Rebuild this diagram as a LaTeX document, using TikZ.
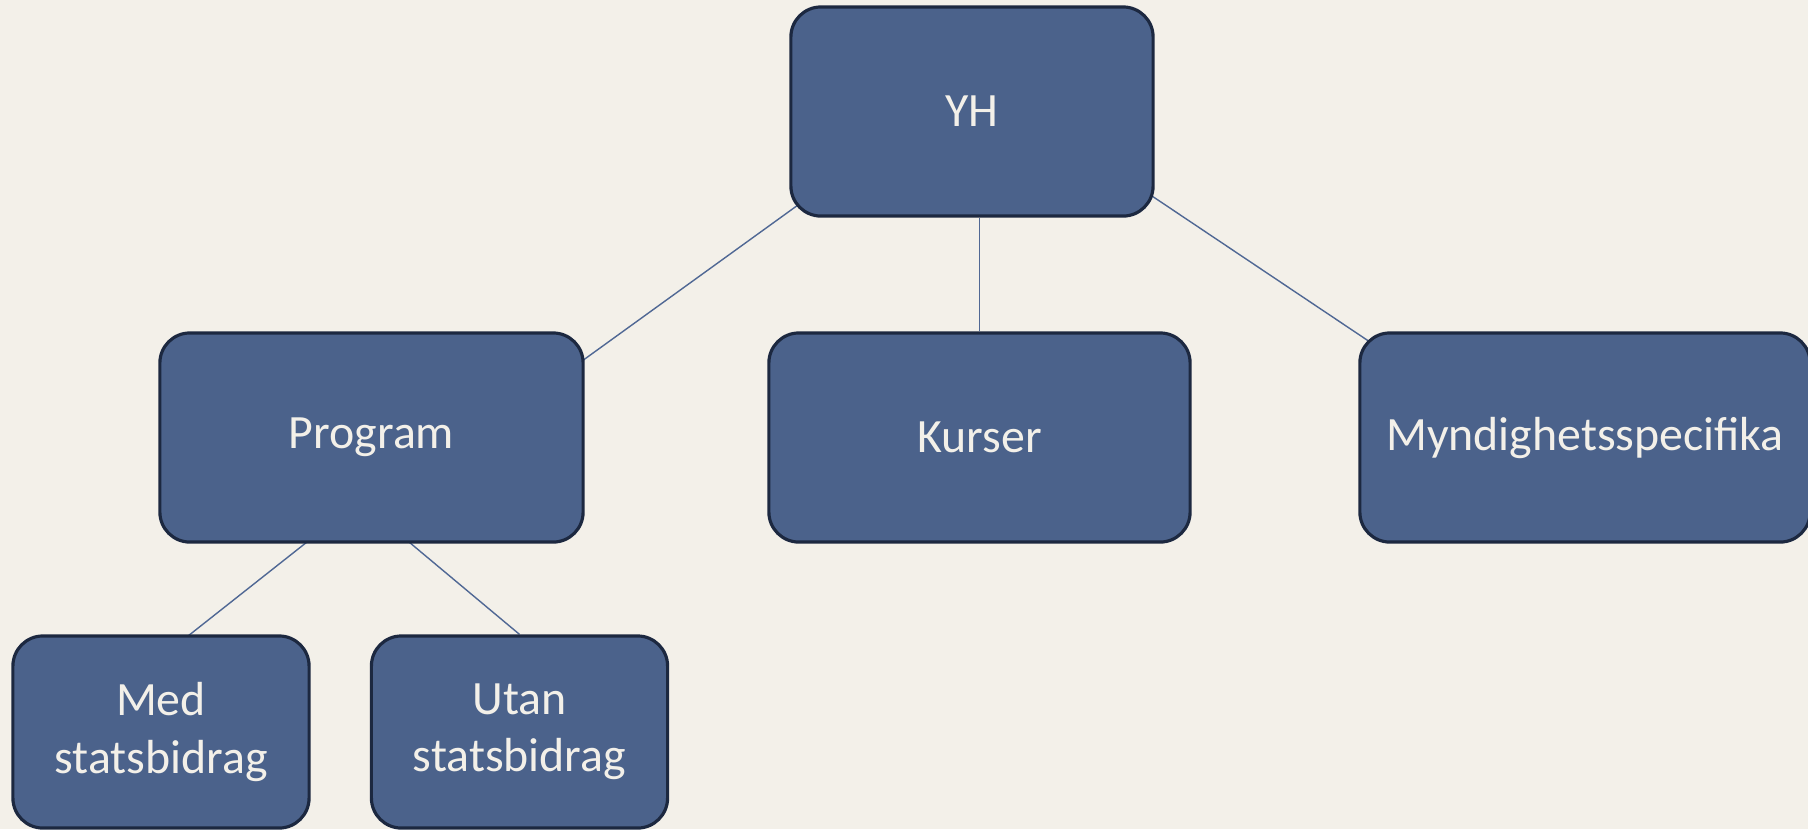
\documentclass[tikz,border=0pt]{standalone}
\usepackage{fontspec}
\setmainfont{Carlito}
\usepackage{tikz}
\usetikzlibrary{positioning,calc,backgrounds}
\definecolor{paper}{RGB}{243,240,233}
\definecolor{boxfill}{RGB}{75,98,139}
\definecolor{boxline}{RGB}{28,40,64}
\definecolor{linkcol}{RGB}{80,104,148}
\tikzstyle{box} = [rectangle, rounded corners=0.3cm, draw=boxline, line width=0.9pt, fill=boxfill, text=paper, text centered, align=center, font=\fontsize{13.6}{16.3}\selectfont]
\tikzstyle{wide} = [box, minimum width=4.23cm, minimum height=2.09cm]
\tikzstyle{small} = [box, minimum width=2.96cm, minimum height=1.92cm]
\tikzstyle{link} = [draw=linkcol, line width=0.4pt]

\begin{document}
\begin{tikzpicture}[x=0.01cm, y=-0.01cm]
    \useasboundingbox (0,0) rectangle (1808,829);

    \node (yh) [box, minimum width=3.62cm, minimum height=2.09cm] at (972,111.5) {YH};
    \node (program) [wide] at (371.5,437.5) {Program};
    \node (kurser) [wide, minimum width=4.21cm] at (979.5,437.5) {Kurser};
    \node (myndighet) [wide, minimum width=4.5cm] at (1585,437.5) {Myndighetsspecifika};
    \node (med) [small] at (161,732) {Med\\statsbidrag};
    \node (utan) [small] at (519.5,732) {Utan\\statsbidrag};

    \begin{scope}[on background layer]
        \fill [paper] (0,0) rectangle (1808,829);
        \path [link] ($(yh.center)+(-174,93.5)$) -- ($(program.center)+(210.5,-76.5)$);
        \path [link] (kurser.north) -- (kurser.north |- yh.south);
        \path [link] ($(yh.center)+(180,84.5)$) -- ($(myndighet.center)+(-215,-95.5)$);
        \path [link] ($(program.center)+(-64.5,104.5)$) -- ($(med.center)+(27,-96)$);
        \path [link] ($(program.center)+(37.5,104.5)$) -- (utan.north);
    \end{scope}

\end{tikzpicture}
\end{document}
